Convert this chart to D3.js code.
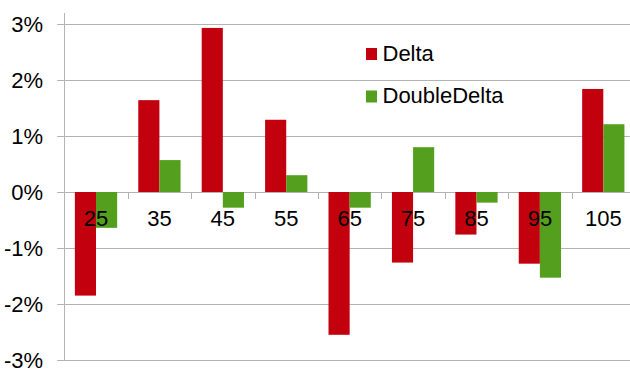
<!DOCTYPE html>
<html>
<head>
<meta charset="utf-8">
<script src="https://cdn.jsdelivr.net/npm/d3@7"></script>
<style>
  html, body { margin: 0; padding: 0; background: #fff; }
  text { font-family: "Liberation Sans", Arial, sans-serif; fill: #000; }
</style>
</head>
<body>
<div id="chart"></div>
<script>
// data
const categories  = ["25", "35", "45", "55", "65", "75", "85", "95", "105"];
const seriesNames = ["Delta", "DoubleDelta"];
const delta       = [-1.85, 1.64, 2.93, 1.29, -2.55, -1.26, -0.76, -1.28, 1.84];
const doubleDelta = [-0.64, 0.57, -0.28, 0.30, -0.28, 0.80, -0.19, -1.53, 1.21];
const yTicks      = [-3, -2, -1, 0, 1, 2, 3];
const colors      = ["#C3000E", "#559F1F"];

const W = 630, H = 375;
const m = { left: 64.3, right: -5, top: 13, bottom: 15 };
const fs = "22px";

const rows = categories.map((c, i) => ({ cat: c, values: [delta[i], doubleDelta[i]] }));

const svg = d3.select("#chart").append("svg")
    .attr("width", W)
    .attr("height", H);

const x = d3.scaleBand()
    .domain(categories)
    .range([m.left, W - m.right])
    .padding(0);

const xs = d3.scaleBand()
    .domain([0, 1])
    .range([x.bandwidth() / 6, x.bandwidth() * 5 / 6]);

const y = d3.scaleLinear()
    .domain([-3, 3])
    .range([360, 24]);

const grey = "#B3B3B3";

// gridlines + y ticks
svg.append("g")
  .selectAll("line")
  .data(yTicks)
  .join("line")
    .attr("x1", m.left - 7)
    .attr("x2", W)
    .attr("y1", d => Math.round(y(d)) + 0.5)
    .attr("y2", d => Math.round(y(d)) + 0.5)
    .attr("stroke", grey)
    .attr("stroke-width", 1);

// y axis line
svg.append("line")
    .attr("x1", Math.round(m.left) + 0.5)
    .attr("x2", Math.round(m.left) + 0.5)
    .attr("y1", m.top)
    .attr("y2", y(-3))
    .attr("stroke", grey);

// y tick labels
svg.append("g")
  .selectAll("text")
  .data(yTicks)
  .join("text")
    .attr("x", 43)
    .attr("y", d => y(d) + 8)
    .attr("text-anchor", "end")
    .style("font-size", fs)
    .text(d => d + "%");

// bars
const groups = svg.append("g")
  .selectAll("g")
  .data(rows)
  .join("g")
    .attr("transform", d => `translate(${x(d.cat)},0)`);

groups.selectAll("rect")
  .data(d => d.values.map((v, k) => ({ k, v })))
  .join("rect")
    .attr("x", d => xs(d.k))
    .attr("width", xs.bandwidth())
    .attr("y", d => y(Math.max(0, d.v)))
    .attr("height", d => Math.abs(y(d.v) - y(0)))
    .attr("fill", d => colors[d.k]);

// x axis ticks at band boundaries
svg.append("g")
  .selectAll("line")
  .data(categories.slice(1))
  .join("line")
    .attr("x1", d => Math.round(x(d)) + 0.5)
    .attr("x2", d => Math.round(x(d)) + 0.5)
    .attr("y1", y(0))
    .attr("y2", y(0) + 7)
    .attr("stroke", grey);

// category labels
svg.append("g")
  .selectAll("text")
  .data(categories)
  .join("text")
    .attr("x", d => x(d) + x.bandwidth() / 2)
    .attr("y", y(0) + 34)
    .attr("text-anchor", "middle")
    .style("font-size", fs)
    .text(d => d);

// legend
const legend = svg.append("g")
  .selectAll("g")
  .data(seriesNames)
  .join("g")
    .attr("transform", (d, i) => `translate(366,${48 + i * 42.5})`);

legend.append("rect")
    .attr("width", 11)
    .attr("height", 12)
    .attr("fill", (d, i) => colors[i]);

legend.append("text")
    .attr("x", 16.5)
    .attr("y", 12.5)
    .style("font-size", fs)
    .text(d => d);
</script>
</body>
</html>
